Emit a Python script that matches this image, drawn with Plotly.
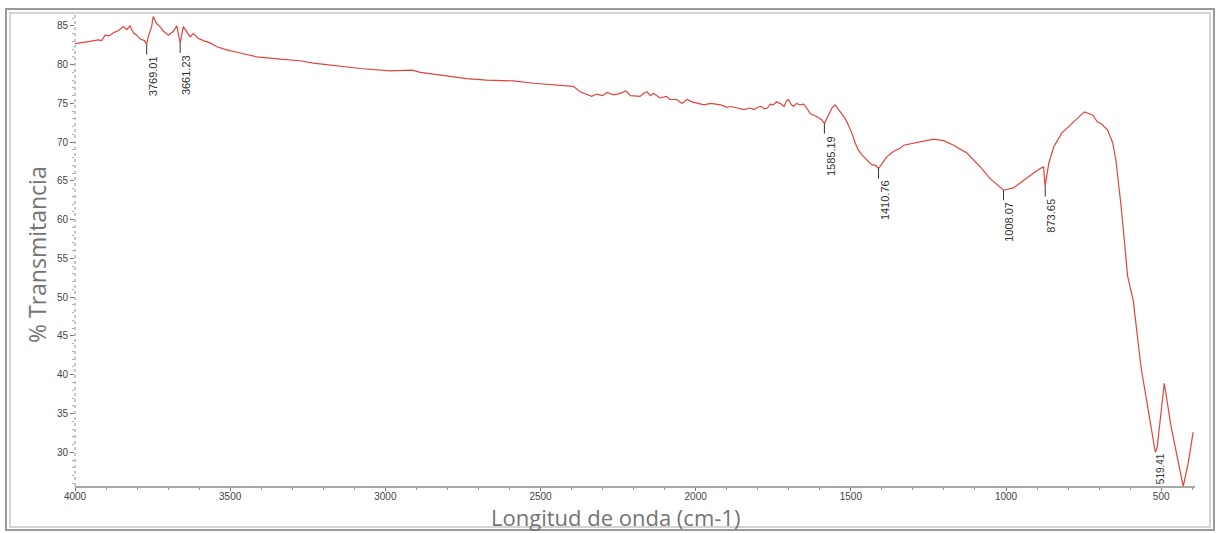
import plotly.graph_objects as go

# FTIR spectrum: wavenumber (cm-1) vs % transmittance
wavenumber = [
    4000, 3980, 3952, 3925, 3914, 3903, 3890, 3876, 3860, 3844, 3833, 3823, 3812, 3801,
    3790, 3776, 3769, 3764, 3753, 3748, 3737, 3726, 3715, 3699, 3683, 3672, 3661, 3651,
    3640, 3629, 3619, 3603, 3587, 3565, 3543, 3511, 3468, 3414, 3339, 3275, 3232, 3146,
    3081, 2984, 2914, 2887, 2802, 2738, 2673, 2588, 2523, 2458, 2394, 2373, 2350, 2335,
    2319, 2300, 2286, 2265, 2243, 2225, 2210, 2179, 2167, 2157, 2146, 2136, 2115, 2095,
    2082, 2061, 2044, 2028, 2012, 1995, 1973, 1952, 1932, 1919, 1900, 1887, 1866, 1844,
    1825, 1812, 1800, 1790, 1779, 1769, 1760, 1750, 1740, 1728, 1715, 1708, 1701, 1693,
    1685, 1675, 1664, 1652, 1642, 1631, 1610, 1594, 1585, 1572, 1561, 1551, 1540, 1529,
    1519, 1508, 1497, 1486, 1476, 1465, 1449, 1433, 1420, 1411, 1395, 1384, 1363, 1341,
    1330, 1298, 1266, 1234, 1201, 1169, 1126, 1083, 1051, 1019, 1008, 976, 944, 912, 890,
    879, 874, 862, 846, 820, 793, 769, 748, 721, 705, 694, 673, 656, 646, 629, 608, 590,
    565, 542, 525, 519, 513, 490, 468, 445, 429, 413, 397,
]
transmittance = [
    82.7, 82.8, 83.0, 83.2, 83.1, 83.8, 83.7, 84.1, 84.4, 84.9, 84.5, 85.0, 84.1, 83.8,
    83.3, 83.1, 82.6, 83.6, 84.9, 86.2, 85.3, 84.9, 84.3, 83.8, 84.3, 85.0, 82.8, 84.9,
    84.3, 83.6, 84.0, 83.4, 83.1, 82.8, 82.3, 81.9, 81.5, 81.0, 80.7, 80.5, 80.2, 79.8,
    79.5, 79.2, 79.3, 79.0, 78.5, 78.2, 78.0, 77.9, 77.6, 77.4, 77.2, 76.5, 76.1, 75.9,
    76.2, 76.0, 76.4, 76.1, 76.3, 76.6, 76.0, 75.9, 76.3, 76.5, 76.0, 76.3, 75.7, 75.9,
    75.5, 75.5, 75.0, 75.5, 75.2, 75.0, 74.8, 75.0, 74.9, 74.8, 74.5, 74.6, 74.4, 74.2,
    74.4, 74.2, 74.5, 74.6, 74.3, 74.4, 74.9, 74.8, 75.2, 75.0, 74.6, 75.3, 75.5, 74.9,
    74.6, 75.0, 74.8, 74.9, 74.4, 73.7, 73.3, 72.9, 72.4, 73.5, 74.4, 74.8, 74.2, 73.7,
    73.1, 72.2, 71.2, 69.9, 69.0, 68.4, 67.7, 67.1, 67.0, 66.6, 67.5, 68.1, 68.8, 69.2,
    69.6, 69.9, 70.2, 70.4, 70.2, 69.6, 68.6, 66.8, 65.3, 64.1, 63.8, 64.1, 65.1, 66.0, 66.6,
    66.8, 64.3, 67.3, 69.4, 71.2, 72.2, 73.1, 73.9, 73.5, 72.6, 72.4, 71.6, 69.9, 67.7, 61.7, 52.7, 49.6,
    41.0, 35.5, 31.5, 30.0, 30.6, 38.9, 33.3, 29.0, 25.6, 28.6, 32.6,
]

# Labelled peaks: position, label text, curve value at the peak
peak_pos = [3769.01, 3661.23, 1585.19, 1410.76, 1008.07, 873.65, 519.41]
peak_text = ["3769.01", "3661.23", "1585.19", "1410.76", "1008.07", "873.65", "519.41"]
peak_val = [82.6, 82.8, 72.4, 66.6, 63.8, 64.3, 30.0]

x_range = [4000, 391]
y_range = [25.65, 86.4]
y_ticks = [30, 35, 40, 45, 50, 55, 60, 65, 70, 75, 80, 85]
x_ticks = [4000, 3500, 3000, 2500, 2000, 1500, 1000, 500]

W, H = 1220, 533
ML, MR, MT, MB = 75, 25, 15, 47
PW, PH = W - ML - MR, H - MT - MB


def px(xp):
    return (xp - ML) / PW


def py(yp):
    return (H - MB - yp) / PH


fig = go.Figure()
fig.add_trace(go.Scatter(
    x=wavenumber, y=transmittance, mode="lines",
    line=dict(color="#e0443c", width=1.2), hoverinfo="x+y", showlegend=False,
))

label_font = dict(family="Liberation Sans", size=11, color="#333333")
gap = 1.3
for pos, txt, val in zip(peak_pos, peak_text, peak_val):
    if pos < 600:
        fig.add_annotation(
            x=pos, y=y_range[0], xref="x", yref="y", text=txt, showarrow=False,
            textangle=-90, xanchor="left", yanchor="bottom", xshift=-2,
            font=dict(family="Liberation Sans", size=10, color="#333333"),
        )
        continue
    fig.add_shape(type="line", xref="x", yref="y", x0=pos, x1=pos, y0=val, y1=val - gap,
                  line=dict(color="#333333", width=1))
    fig.add_annotation(
        x=pos, y=val - gap, xref="x", yref="y", text=txt, showarrow=False,
        textangle=-90, xanchor="left", yanchor="top", xshift=-2, font=label_font,
    )

# dotted vertical axis line
fig.add_shape(type="line", xref="paper", yref="paper", x0=0, x1=0, y0=0, y1=1,
              line=dict(color="#8a8a8a", width=1, dash="dot"))

# window frame
fig.add_shape(type="rect", xref="paper", yref="paper",
              x0=px(6), x1=px(1214), y0=py(530), y1=py(9),
              line=dict(color="#9a9a9a", width=2), layer="below")
fig.add_shape(type="rect", xref="paper", yref="paper",
              x0=px(10), x1=px(1210), y0=py(527), y1=py(13),
              line=dict(color="#d4d4d4", width=2), layer="below")

fig.add_annotation(
    text="Longitud de onda (cm-1)", xref="paper", yref="paper",
    x=px(615), y=py(517), showarrow=False, xanchor="center", yanchor="middle",
    font=dict(family="Open Sans", size=22, color="#747474"),
)
fig.add_annotation(
    text="% Transmitancia", xref="paper", yref="paper",
    x=px(37), y=py(255), showarrow=False, xanchor="center", yanchor="middle",
    textangle=-90, font=dict(family="Open Sans", size=23, color="#747474"),
)

fig.update_layout(
    width=W, height=H,
    margin=dict(l=ML, r=MR, t=MT, b=MB),
    paper_bgcolor="white", plot_bgcolor="white",
    xaxis=dict(
        range=x_range, tickvals=x_ticks, ticktext=[str(t) for t in x_ticks],
        showgrid=False, zeroline=False, showline=True, linecolor="#a8a8a8", linewidth=2,
        ticks="outside", ticklen=3, tickcolor="#777777", ticklabelstandoff=-3,
        minor=dict(dtick=100, tick0=0, ticks="outside", ticklen=2, tickcolor="#999999"),
        tickfont=dict(family="Liberation Sans", size=10, color="#444444"),
    ),
    yaxis=dict(
        range=y_range, tickvals=y_ticks, showgrid=False, zeroline=False, showline=False,
        ticks="outside", ticklen=4, tickcolor="#777777",
        minor=dict(dtick=1, tick0=0, ticks="outside", ticklen=2, tickcolor="#aaaaaa"),
        tickfont=dict(family="Liberation Sans", size=10, color="#444444"),
    ),
)

fig.write_html("out.html")
